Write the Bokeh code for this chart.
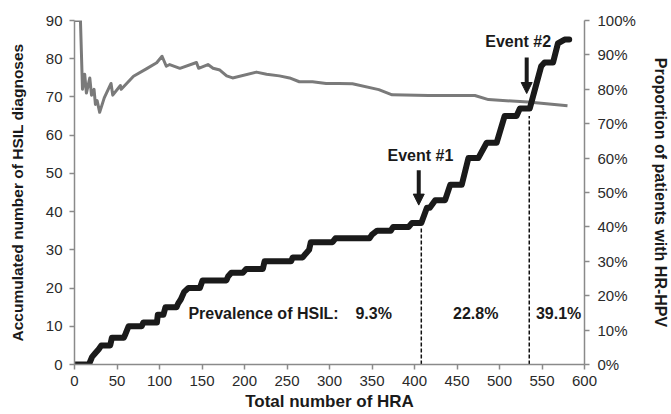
from bokeh.plotting import figure
from bokeh.models import (Range1d, LinearAxis, FixedTicker, NumeralTickFormatter,
                          Arrow, NormalHead, ColumnDataSource)
from bokeh.core.properties import value
from bokeh.embed import file_html
from bokeh.resources import INLINE

# ---- data ----
hra_hsil = [0, 17, 20.7, 24.6, 28.5, 31.6, 42, 44, 58, 60, 63.6, 79, 81, 97, 98, 104.6,
            107, 120, 122, 125, 129, 134, 147.5, 150.6, 178.7, 180.6, 184.5, 198, 202,
            221.6, 223.6, 254.8, 256.7, 268.4, 272, 276, 278, 303.5, 307, 347, 350, 356,
            372, 375, 393, 397, 408, 414.6, 418, 424.4, 436, 442, 455.6, 463.4, 475,
            484.9, 496.6, 506, 520, 524, 535.6, 549, 553, 563, 568.7, 576.6, 582]
hsil_cum = [0, 0, 2, 3, 4, 5, 5, 7, 7, 8, 10, 10, 11, 11, 13, 13,
            15, 15, 16, 17, 19, 20, 20, 22, 22, 23, 24, 24, 25,
            25, 27, 27, 28, 28, 29, 30, 32, 32, 33, 33, 34, 35,
            35, 36, 36, 37, 37, 41, 41, 43, 43, 47, 47, 54, 54,
            58, 58, 65, 65, 67, 67, 78, 79, 79, 84, 85, 85]

hra_hpv = [0, 7, 9.4, 12, 14, 18, 20, 23, 24.6, 26.6, 29.6, 35, 43, 45, 54, 55, 69.4,
           85, 96.7, 103, 108, 112, 124, 143.5, 146, 157, 163, 171, 179, 186, 214, 226,
           241, 253, 264.5, 280, 296, 311, 327, 358, 373.7, 416.6, 471, 487, 533.6, 580]
hpv_pct = [100, 100, 80, 84.4, 78.9, 83.3, 78.3, 80, 75.6, 76.7, 73.3, 77.5, 81.7, 78.3,
           81.1, 80, 83.8, 86.0, 87.7, 89.6, 86.7, 87.2, 86.1, 87.8, 86.1, 87.2, 86.1,
           85.6, 83.9, 83.3, 85, 84.4, 83.9, 83.3, 82.2, 82.2, 81.7, 81.7, 81.6, 79.9,
           78.4, 78.2, 78.2, 77.0, 76.3, 75.2]

x_ticks = list(range(0, 601, 50))
y_ticks = list(range(0, 91, 10))
pct_ticks = [i / 10 for i in range(0, 11)]

event_hra = [408, 535]
event_names = ["Event #1", "Event #2"]
event_dash_top = [36, 65]
event_arrow_top = [50.8, 80.3]
event_arrow_tip = [41.7, 70.9]
event_label_x = [407, 522]
event_label_y = [54.8, 84.4]

prev_texts = ["Prevalence of HSIL:", "9.3%", "22.8%", "39.1%"]
prev_x = [134, 352, 472, 569.6]
prev_align = ["left", "center", "center", "center"]
prev_y = 13.3

FONT = "Liberation Sans"

p = figure(width=671, height=414, x_range=Range1d(0, 600), y_range=Range1d(0, 90),
           output_backend="svg", toolbar_location=None,
           min_border_left=74, min_border_right=84, min_border_top=20, min_border_bottom=50)
p.extra_y_ranges = {"pct": Range1d(0, 1)}
p.grid.visible = False
p.outline_line_color = None
p.background_fill_color = "white"
p.border_fill_color = "white"

def style_axis(ax):
    ax.axis_line_color = "#8a8a8a"
    ax.axis_line_width = 1.5
    ax.major_tick_line_color = "#8a8a8a"
    ax.major_tick_line_width = 1.5
    ax.major_tick_out = 5
    ax.major_tick_in = 0
    ax.minor_tick_line_color = None
    ax.major_label_text_font = FONT
    ax.major_label_text_font_size = "15px"
    ax.major_label_text_color = "#2a2a2a"
    ax.axis_label_text_font = FONT
    ax.axis_label_text_font_size = "17px"
    ax.axis_label_text_font_style = "bold"
    ax.axis_label_text_color = "#1a1a1a"

xa = p.xaxis[0]
style_axis(xa)
xa.ticker = FixedTicker(ticks=x_ticks)
xa.major_label_standoff = 6
xa.axis_label = "Total number of HRA"
xa.axis_label_standoff = 3

ya = p.yaxis[0]
style_axis(ya)
ya.ticker = FixedTicker(ticks=y_ticks)
ya.major_label_standoff = 7
ya.axis_label = "Accumulated number of HSIL diagnoses"
ya.axis_label_text_font_size = "15.5px"
ya.axis_label_standoff = 17

ra = LinearAxis(y_range_name="pct")
style_axis(ra)
ra.ticker = FixedTicker(ticks=pct_ticks)
ra.formatter = NumeralTickFormatter(format="0%")
ra.major_label_standoff = 8
ra.axis_label = "Proportion of patients with HR-HPV"
ra.axis_label_text_font_size = "16px"
ra.axis_label_standoff = 13
p.add_layout(ra, "right")

# grey proportion line
p.line(hra_hpv, [v / 100 for v in hpv_pct], y_range_name="pct",
       line_color="#7a7a7a", line_width=3, line_join="round")

# dashed event lines
for ex, top in zip(event_hra, event_dash_top):
    p.line([ex, ex], [0, top], line_color="#111111", line_width=1.5, line_dash="4 2")

# black accumulated line
p.line(hra_hsil, hsil_cum, line_color="#1a1a1a", line_width=6, line_join="round",
       line_cap="round")

# arrows
for ex, top, tip in zip(event_hra, event_arrow_top, event_arrow_tip):
    p.add_layout(Arrow(end=NormalHead(size=11, fill_color="#1a1a1a", line_color="#1a1a1a"),
                       x_start=ex - 3, y_start=top, x_end=ex - 3, y_end=tip,
                       line_width=4, line_color="#1a1a1a"))

ev_src = ColumnDataSource(dict(x=event_label_x, y=event_label_y, t=event_names))
p.text("x", "y", text="t", source=ev_src, text_font=value(FONT), text_font_style="bold",
       text_font_size="16px", text_align="center", text_baseline="middle",
       text_color="#1a1a1a")

prev_src = ColumnDataSource(dict(x=prev_x, y=[prev_y] * 4, t=prev_texts, a=prev_align))
p.text("x", "y", text="t", source=prev_src, text_font=value(FONT), text_font_style="bold",
       text_font_size="16px", text_align="a", text_baseline="middle",
       text_color="#1a1a1a")

open("out.html", "w").write(file_html(p, INLINE))
